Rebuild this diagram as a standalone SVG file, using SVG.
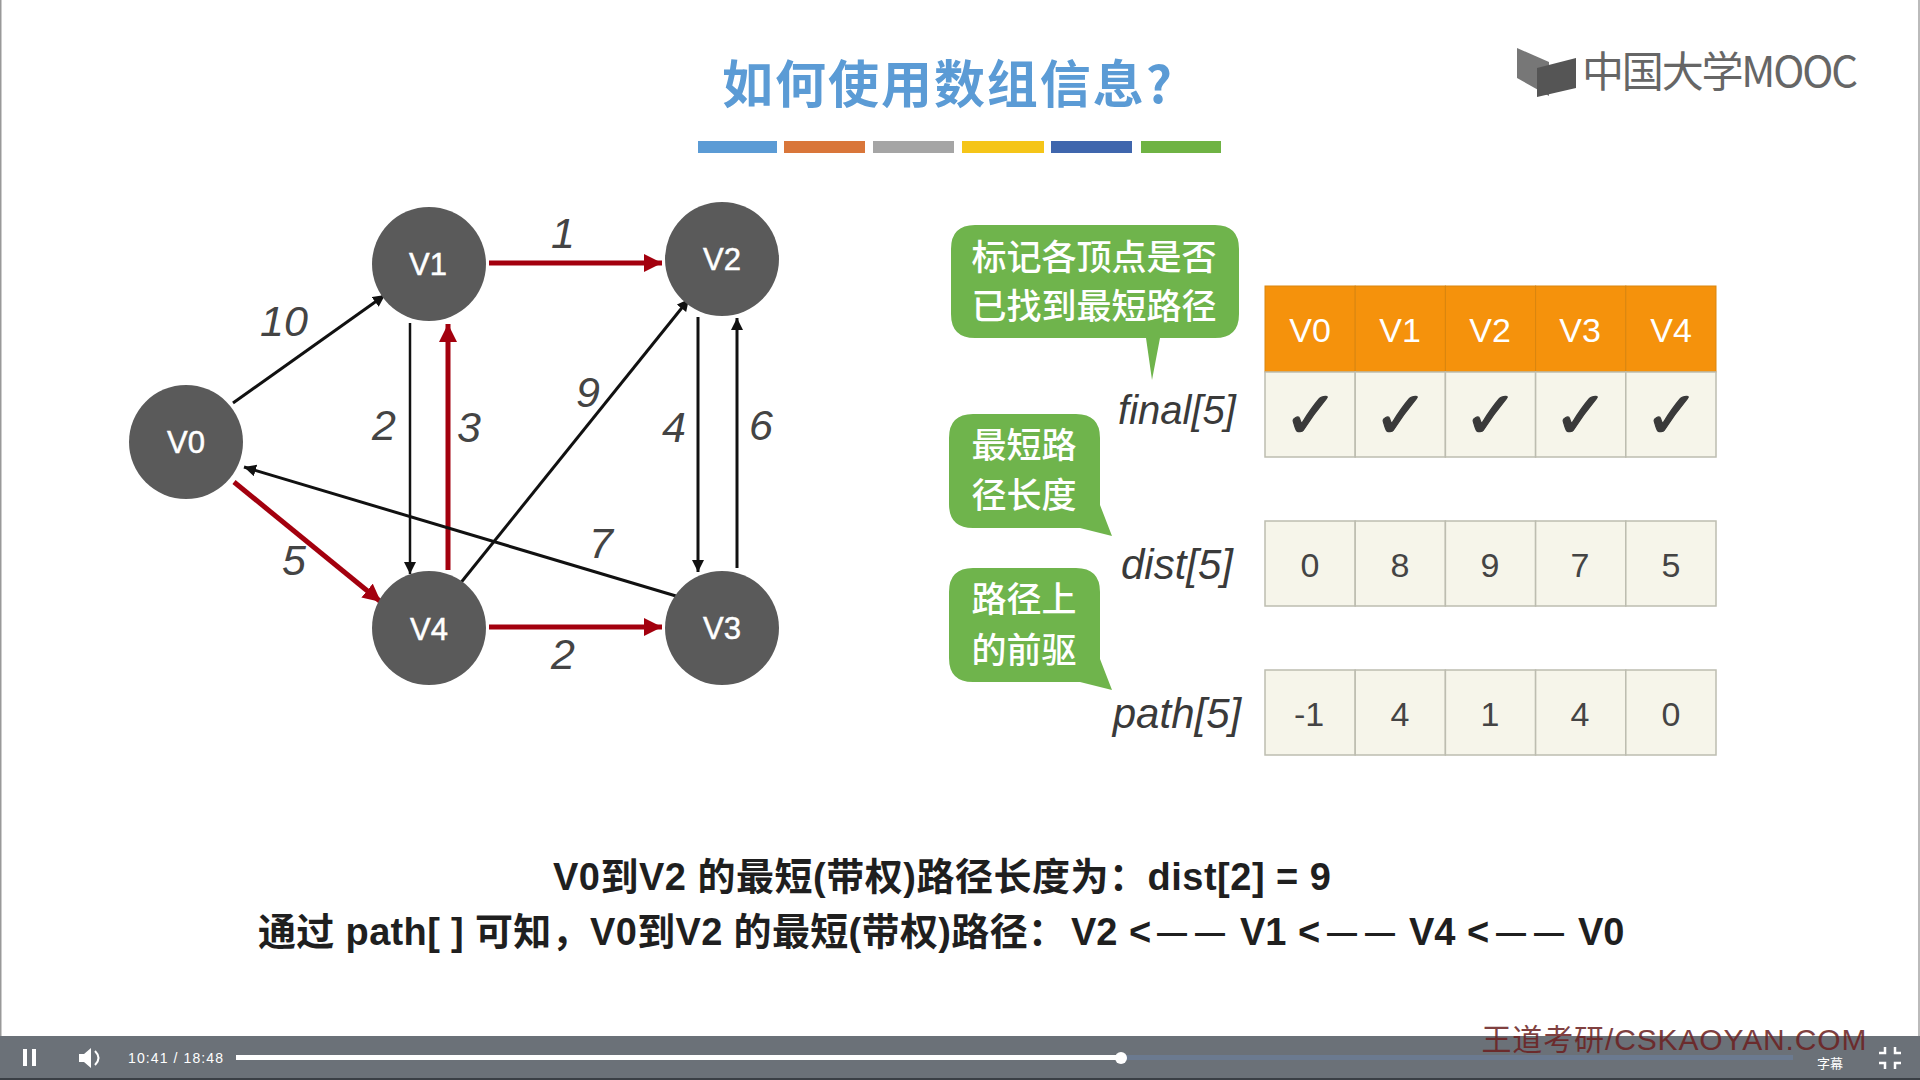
<svg xmlns="http://www.w3.org/2000/svg" width="1920" height="1080" viewBox="0 0 1920 1080">
<style>
text{font-family:"Liberation Sans","Noto Sans CJK SC",sans-serif}
.node{fill:#5a5a5a}
.nl{fill:#fff;font-size:31px;text-anchor:middle;stroke:#fff;stroke-width:.5}
.w{font-style:italic;font-size:43px;fill:#444;text-anchor:middle}
.k{stroke:#111;stroke-width:3;fill:none;marker-end:url(#ak)}
.r{stroke:#a3000e;stroke-width:5;fill:none;marker-end:url(#ar)}
.hc{fill:#f5920c;stroke:#d9860f;stroke-width:1}
.c{fill:#f6f5ea;stroke:#bdbdb0;stroke-width:1.5}
.hl{fill:#fff;font-size:34px;text-anchor:middle}
.v{fill:#444;font-size:34px;text-anchor:middle}
.chk{fill:#3a3a3a;stroke:#3a3a3a;stroke-width:1.2;font-size:66px;text-anchor:middle;font-family:"DejaVu Sans",sans-serif;font-weight:bold}
.bub{fill:#6fb44c}
.bt{fill:#fff;font-size:35px;font-weight:500;text-anchor:middle;font-family:"Noto Sans CJK SC",sans-serif}
.al{font-style:italic;font-size:40px;fill:#3a3a3a;text-anchor:middle}
.cap{fill:#1f1f1f;font-size:38px;font-weight:bold}
.capm{text-anchor:middle}
.d{font-size:30px}
</style>
<defs>
<marker id="ak" markerUnits="userSpaceOnUse" markerWidth="14" markerHeight="14" refX="12" refY="6" orient="auto"><path d="M0 0L12 6L0 12Z" fill="#111"/></marker>
<marker id="ar" markerUnits="userSpaceOnUse" markerWidth="20" markerHeight="20" refX="18" refY="9" orient="auto"><path d="M0 0L18 9L0 18Z" fill="#a3000e"/></marker>
</defs>
<rect width="1920" height="1080" fill="#fff"/>
<rect x="0" y="0" width="1.5" height="1036" fill="#999"/>
<rect x="1918" y="0" width="2" height="1036" fill="#bbb"/>

<g id="header">
<text x="947" y="103" font-size="51" fill="#5b9bd5" text-anchor="middle" textLength="450" style="font-family:'Noto Sans CJK SC',sans-serif;font-weight:700">如何使用数组信息?</text>
<rect x="698" y="141" width="79" height="12" fill="#5b9bd5"/>
<rect x="784" y="141" width="81" height="12" fill="#d9763a"/>
<rect x="873" y="141" width="81" height="12" fill="#a5a5a5"/>
<rect x="962" y="141" width="82" height="12" fill="#f5c518"/>
<rect x="1051" y="141" width="81" height="12" fill="#3f66ad"/>
<rect x="1141" y="141" width="80" height="12" fill="#6fb344"/>
</g>

<g id="logo">
<path d="M1517 48L1549 62L1549 96L1517 78Z" fill="#777"/>
<path d="M1537 68L1576 58L1576 88L1537 97Z" fill="#555"/>
<text x="1720" y="87" font-size="42" fill="#666" text-anchor="middle" textLength="276" style="font-family:'Noto Sans CJK SC',sans-serif;font-weight:400">中国大学MOOC</text>
</g>

<g id="connectors">
<line class="k" x1="233" y1="403" x2="385" y2="295"/>
<line class="r" x1="489" y1="263" x2="662" y2="263"/>
<line class="k" x1="410" y1="323" x2="410" y2="574" style="stroke-width:2.5"/>
<line class="r" x1="448" y1="570" x2="448" y2="324"/>
<line class="k" x1="459" y1="585" x2="689" y2="299"/>
<line class="k" x1="698" y1="317" x2="698" y2="572"/>
<line class="k" x1="737" y1="568" x2="737" y2="318"/>
<line class="k" x1="676" y1="596" x2="244" y2="467"/>
<line class="r" x1="234" y1="482" x2="381" y2="602"/>
<line class="r" x1="489" y1="627" x2="662" y2="627"/>
</g>

<g id="edge-labels">
<text class="w" x="284" y="336">10</text>
<text class="w" x="563" y="248">1</text>
<text class="w" x="384" y="440">2</text>
<text class="w" x="469" y="442">3</text>
<text class="w" x="588" y="407">9</text>
<text class="w" x="674" y="442">4</text>
<text class="w" x="761" y="440">6</text>
<text class="w" x="601" y="558">7</text>
<text class="w" x="294" y="575">5</text>
<text class="w" x="563" y="669">2</text>
</g>

<g id="V0"><circle class="node" cx="186" cy="442" r="57"/><text class="nl" x="186" y="453">V0</text></g>
<g id="V1"><circle class="node" cx="429" cy="264" r="57"/><text class="nl" x="428" y="275">V1</text></g>
<g id="V2"><circle class="node" cx="722" cy="259" r="57"/><text class="nl" x="722" y="270">V2</text></g>
<g id="V3"><circle class="node" cx="722" cy="628" r="57"/><text class="nl" x="722" y="639">V3</text></g>
<g id="V4"><circle class="node" cx="429" cy="628" r="57"/><text class="nl" x="429" y="640">V4</text></g>

<g id="bubble-final">
<path class="bub" d="M975 225H1215Q1239 225 1239 249V314Q1239 338 1215 338H1160L1152 380L1146 338H975Q951 338 951 314V249Q951 225 975 225Z"/>
<text class="bt" x="1094" y="270">标记各顶点是否</text>
<text class="bt" x="1094" y="319">已找到最短路径</text>
</g>
<g id="bubble-dist">
<path class="bub" d="M973 414H1076Q1100 414 1100 438V505L1112 536L1080 528H973Q949 528 949 504V438Q949 414 973 414Z"/>
<text class="bt" x="1024" y="458">最短路</text>
<text class="bt" x="1024" y="508">径长度</text>
</g>
<g id="bubble-path">
<path class="bub" d="M973 568H1076Q1100 568 1100 592V659L1112 690L1080 682H973Q949 682 949 658V592Q949 568 973 568Z"/>
<text class="bt" x="1024" y="612">路径上</text>
<text class="bt" x="1024" y="663">的前驱</text>
</g>

<g id="array-labels">
<text class="al" x="1177" y="424">final[5]</text>
<text class="al" x="1177" y="579" style="font-size:42px">dist[5]</text>
<text class="al" x="1177" y="728" style="font-size:42px">path[5]</text>
</g>

<g id="table-header">
<rect class="hc" x="1265" y="286" width="90.2" height="86"/>
<rect class="hc" x="1355.2" y="286" width="90.2" height="86"/>
<rect class="hc" x="1445.4" y="286" width="90.2" height="86"/>
<rect class="hc" x="1535.6" y="286" width="90.2" height="86"/>
<rect class="hc" x="1625.8" y="286" width="90.2" height="86"/>
<text class="hl" x="1310" y="342">V0</text>
<text class="hl" x="1400" y="342">V1</text>
<text class="hl" x="1490" y="342">V2</text>
<text class="hl" x="1580" y="342">V3</text>
<text class="hl" x="1671" y="342">V4</text>
</g>
<g id="row-final">
<rect class="c" x="1265" y="372" width="90.2" height="85"/>
<rect class="c" x="1355.2" y="372" width="90.2" height="85"/>
<rect class="c" x="1445.4" y="372" width="90.2" height="85"/>
<rect class="c" x="1535.6" y="372" width="90.2" height="85"/>
<rect class="c" x="1625.8" y="372" width="90.2" height="85"/>
<text class="chk" x="1311" y="438">✓</text>
<text class="chk" x="1401" y="438">✓</text>
<text class="chk" x="1491" y="438">✓</text>
<text class="chk" x="1581" y="438">✓</text>
<text class="chk" x="1672" y="438">✓</text>
</g>
<g id="row-dist">
<rect class="c" x="1265" y="521" width="90.2" height="85"/>
<rect class="c" x="1355.2" y="521" width="90.2" height="85"/>
<rect class="c" x="1445.4" y="521" width="90.2" height="85"/>
<rect class="c" x="1535.6" y="521" width="90.2" height="85"/>
<rect class="c" x="1625.8" y="521" width="90.2" height="85"/>
<text class="v" x="1310" y="577">0</text>
<text class="v" x="1400" y="577">8</text>
<text class="v" x="1490" y="577">9</text>
<text class="v" x="1580" y="577">7</text>
<text class="v" x="1671" y="577">5</text>
</g>
<g id="row-path">
<rect class="c" x="1265" y="670" width="90.2" height="85"/>
<rect class="c" x="1355.2" y="670" width="90.2" height="85"/>
<rect class="c" x="1445.4" y="670" width="90.2" height="85"/>
<rect class="c" x="1535.6" y="670" width="90.2" height="85"/>
<rect class="c" x="1625.8" y="670" width="90.2" height="85"/>
<text class="v" x="1309" y="726">-1</text>
<text class="v" x="1400" y="726">4</text>
<text class="v" x="1490" y="726">1</text>
<text class="v" x="1580" y="726">4</text>
<text class="v" x="1671" y="726">0</text>
</g>

<g id="caption">
<text class="cap capm" x="942" y="890" textLength="778">V0到V2 的最短(带权)路径长度为：dist[2] = 9</text>
<text class="cap" x="258" y="945" textLength="808">通过 path[ ] 可知，V0到V2 的最短(带权)路径：</text>
<text class="cap" x="1071" y="945">V2</text>
<text class="cap" x="1129" y="945">&lt;<tspan class="d" x="1157" dy="-2">—</tspan><tspan class="d" x="1195">—</tspan></text>
<text class="cap" x="1240" y="945">V1</text>
<text class="cap" x="1298" y="945">&lt;<tspan class="d" x="1327" dy="-2">—</tspan><tspan class="d" x="1365">—</tspan></text>
<text class="cap" x="1409" y="945">V4</text>
<text class="cap" x="1467" y="945">&lt;<tspan class="d" x="1496" dy="-2">—</tspan><tspan class="d" x="1534">—</tspan></text>
<text class="cap" x="1578" y="945">V0</text>
</g>

<g id="player">
<rect x="0" y="1036" width="1920" height="44" fill="#6b7178"/>
<rect x="0" y="1078" width="1920" height="2" fill="#3a3f45"/>
<text x="1674" y="1050" font-size="30" fill="#6b1f1f" text-anchor="middle" textLength="385" opacity=".85">王道考研/CSKAOYAN.COM</text>
<rect x="23" y="1049" width="4" height="17" fill="#fff"/>
<rect x="32" y="1049" width="4" height="17" fill="#fff"/>
<path d="M79 1054H84L91 1048V1068L84 1062H79Z" fill="#fff"/>
<path d="M95 1051Q102 1058 95 1065" stroke="#fff" stroke-width="2" fill="none"/>
<text x="128" y="1063" font-size="14" fill="#fff" textLength="95">10:41 / 18:48</text>
<rect x="236" y="1055" width="1557" height="5" fill="#6b7a90"/>
<rect x="236" y="1055" width="885" height="5" fill="#fff"/>
<circle cx="1121" cy="1058" r="6" fill="#fff"/>
<text x="1830" y="1068" font-size="13" fill="#fff" text-anchor="middle" style="font-family:'Noto Sans CJK SC',sans-serif">字幕</text>
<path d="M1885 1047V1053H1879M1895 1047V1053H1901M1885 1069V1063H1879M1895 1069V1063H1901" stroke="#fff" stroke-width="2.5" fill="none"/>
</g>
</svg>
